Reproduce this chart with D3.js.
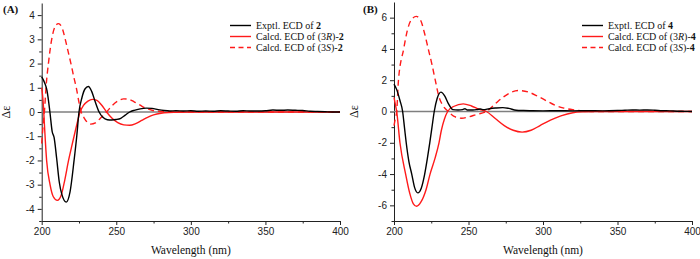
<!DOCTYPE html>
<html>
<head>
<meta charset="utf-8">
<script src="https://cdn.jsdelivr.net/npm/d3@7"></script>
<style>
  body { margin: 0; background: #fff; }
  svg { display: block; }
  .tick text { font-family: "Liberation Sans", Arial, sans-serif; font-size: 10px; fill: #222; }
  .lbl { font-family: "Liberation Serif", "Times New Roman", serif; fill: #111; }
</style>
</head>
<body>
<svg width="700" height="259"></svg>
<script>
// wavelength (nm), delta epsilon
const aExptl = [[200,1.45],[202,1.2],[203.5,0.9],[205.5,0],[207,-0.8],[208.3,-1.05],[210,-1.9],[211.8,-2.9],[213.5,-3.4],[216.5,-3.72],[219,-3.3],[221.7,-2.0],[223.5,-1.0],[225,0],[227,0.6],[229,0.95],[231.3,1.05],[233.5,0.85],[236,0.4],[238.5,0],[241,-0.22],[244,-0.32],[247,-0.33],[250,-0.31],[253,-0.26],[256,-0.13],[259,0],[262,0.07],[266,0.13],[270,0.16],[274,0.15],[278,0.1],[282,0.06],[286,0.04],[290,0.05],[295,0.04],[300,0.05],[305,0.03],[310,0.04],[315,0.03],[320,0.05],[325,0.04],[330,0.03],[335,0.05],[340,0.04],[345,0.04],[350,0.05],[355,0.08],[360,0.07],[365,0.08],[370,0.07],[375,0.06],[380,0.03],[385,0.02],[390,0.01],[395,0],[400,0]];
const aCalcR = [[200,1.0],[201,0.4],[201.8,-0.5],[203.3,-2.0],[205.6,-3.0],[207.8,-3.5],[210.5,-3.65],[213,-3.45],[215.5,-2.8],[218,-2.0],[220,-1.45],[221.7,-1.0],[223.6,-0.5],[225.7,0],[228,0.27],[231,0.45],[234,0.52],[237,0.48],[240,0.3],[243.5,0],[247,-0.25],[251,-0.44],[255,-0.53],[259,-0.55],[263,-0.48],[267,-0.35],[271,-0.22],[275,-0.12],[280,-0.05],[285,-0.02],[290,-0.01],[300,0],[400,0]];
const aCalcS = [[200,-1.3],[201,-0.5],[201.8,0],[203,1.1],[204.5,2.0],[206.7,3.0],[208.8,3.5],[211.2,3.65],[213.5,3.5],[215.8,3.0],[217.7,2.5],[219.6,2.0],[221.5,1.45],[223.2,1.0],[225,0.4],[226.5,0],[228.5,-0.25],[230.5,-0.42],[233,-0.5],[236,-0.45],[239.5,-0.25],[243.5,0],[247,0.25],[251,0.45],[255,0.54],[258,0.53],[262,0.42],[266,0.28],[270,0.15],[274,0.07],[278,0.03],[284,0.01],[290,0],[400,0]];

const bExptl = [[200,1.75],[202,1.35],[204,0.7],[205.8,0],[207,-1.0],[208.2,-2.0],[210,-3.2],[211.9,-4.0],[213.8,-4.85],[216,-5.2],[218.3,-4.9],[220.6,-4.0],[222.4,-3.0],[224,-2.0],[225.5,-1.0],[227,0],[229,0.85],[231.5,1.24],[234,1.0],[236.5,0.5],[239.5,0.12],[243,0.1],[246,0.12],[247.6,0.18],[249,0.1],[253,0.1],[256,0.13],[258,0.16],[260,0.12],[264,0.18],[268,0.22],[273,0.25],[277,0.2],[282,0.08],[287,0.06],[292,0.05],[300,0.04],[310,0.05],[320,0.04],[330,0.05],[340,0.04],[350,0.06],[355,0.08],[360,0.1],[365,0.09],[370,0.1],[375,0.08],[380,0.05],[385,0.04],[390,0.02],[395,0.01],[400,0]];
const bCalcR = [[200,0.9],[201,0.4],[201.8,0],[204,-2.0],[207.8,-4.0],[210.5,-5.2],[213,-5.9],[215.2,-6.06],[218,-5.8],[221.5,-5.0],[224.2,-4.0],[227.5,-3.0],[230.2,-2.0],[231.8,-1.2],[233.8,-0.5],[236,0],[240,0.32],[246.5,0.49],[252,0.35],[257,0.15],[262,0],[268,-0.45],[274,-0.9],[280,-1.2],[286,-1.32],[292,-1.2],[298,-0.9],[305,-0.55],[312,-0.28],[320,-0.08],[328,-0.02],[335,0],[400,0]];
const bCalcS = [[200,-0.9],[201,-0.4],[201.8,0],[203,2.0],[206.5,4.0],[209,5.2],[211.5,5.85],[215,6.08],[218,5.8],[220.5,5.0],[223,4.0],[225.5,3.0],[227.7,2.0],[230,1.0],[233,0.35],[236.5,0],[240,-0.3],[245.4,-0.43],[250,-0.35],[255,-0.2],[262,0],[268,0.5],[273,0.9],[278,1.2],[283.5,1.34],[290,1.25],[296,1.0],[302,0.7],[308,0.4],[314,0.22],[320,0.11],[327,0.04],[335,0],[400,0]];

const xTicks = [200, 250, 300, 350, 400];
const xMinor = [225, 275, 325, 375];
const aYTicks = [-4, -3, -2, -1, 0, 1, 2, 3, 4];
const aYMinor = [-4.5, -3.5, -2.5, -1.5, -0.5, 0.5, 1.5, 2.5, 3.5];
const bYTicks = [-6, -4, -2, 0, 2, 4, 6];
const bYMinor = [-7, -5, -3, -1, 1, 3, 5];

const svg = d3.select("svg");

function drawPanel(p) {
  const x = d3.scaleLinear().domain([200, 400]).range([p.left, p.right]);
  const y = d3.scaleLinear().domain(p.yDomain).range([221, p.top]);
  const g = svg.append("g");

  // minor ticks first
  g.append("g").attr("transform", `translate(0,221)`)
    .call(d3.axisBottom(x).tickValues(xMinor).tickSize(2.5).tickFormat(""))
    .call(a => a.select(".domain").remove());
  g.append("g").attr("transform", `translate(${p.left},0)`)
    .call(d3.axisLeft(y).tickValues(p.yMinor).tickSize(2.5).tickFormat(""))
    .call(a => a.select(".domain").remove());

  g.append("g").attr("transform", `translate(0,221)`)
    .call(d3.axisBottom(x).tickValues(xTicks).tickSize(4).tickPadding(3).tickSizeOuter(0).tickFormat(d => String(d)));
  g.append("g").attr("transform", `translate(${p.left},0)`)
    .call(d3.axisLeft(y).tickValues(p.yTicks).tickSize(4).tickPadding(3).tickSizeOuter(0).tickFormat(d => String(d)));
  g.selectAll(".domain, .tick line").attr("stroke", "#222");

  // zero line
  g.append("line")
    .attr("x1", x(200)).attr("x2", x(400))
    .attr("y1", y(0)).attr("y2", y(0))
    .attr("stroke", "#7f7f7f").attr("stroke-width", 1.4);

  const line = d3.line().x(d => x(d[0])).y(d => y(d[1])).curve(d3.curveMonotoneX);

  g.append("path").datum(p.calcS).attr("d", line)
    .attr("fill", "none").attr("stroke", "#ff1a1a").attr("stroke-width", 1.4).attr("stroke-dasharray", "6,4");
  g.append("path").datum(p.calcR).attr("d", line)
    .attr("fill", "none").attr("stroke", "#ff1a1a").attr("stroke-width", 1.4);
  g.append("path").datum(p.exptl).attr("d", line)
    .attr("fill", "none").attr("stroke", "#000").attr("stroke-width", 1.4);

  // panel letter
  g.append("text").attr("class", "lbl")
    .attr("x", p.letterX).attr("y", 13)
    .style("font-size", "11px").style("font-weight", "bold")
    .text(p.letter);

  // y label
  g.append("text").attr("class", "lbl")
    .attr("transform", `translate(${p.yLabelX},${y(0)}) rotate(-90)`)
    .attr("text-anchor", "middle")
    .style("font-size", "12px")
    .text("Δε");

  // x label
  g.append("text").attr("class", "lbl")
    .attr("x", (p.left + p.right) / 2).attr("y", 254)
    .attr("text-anchor", "middle")
    .style("font-size", "11.5px")
    .text("Wavelength (nm)");

  // legend
  const legend = [
    { color: "#000", dash: null, pre: "Exptl. ECD of ", it: null },
    { color: "#ff1a1a", dash: null, pre: "Calcd. ECD of (3", it: "R" },
    { color: "#ff1a1a", dash: "5,3.5", pre: "Calcd. ECD of (3", it: "S" }
  ];
  const lg = g.append("g");
  legend.forEach((d, i) => {
    const ly = 25.5 + i * 11;
    lg.append("line")
      .attr("x1", p.legX).attr("x2", p.legX + 21)
      .attr("y1", ly).attr("y2", ly)
      .attr("stroke", d.color).attr("stroke-width", 1.4)
      .attr("stroke-dasharray", d.dash);
    const t = lg.append("text").attr("class", "lbl")
      .attr("x", p.legX + 26).attr("y", ly + 3.5)
      .style("font-size", "10px");
    t.append("tspan").text(d.pre);
    if (d.it) {
      t.append("tspan").style("font-style", "italic").text(d.it);
      t.append("tspan").text(")-");
    }
    t.append("tspan").style("font-weight", "bold").text(p.cpd);
  });
}

drawPanel({
  left: 41.7, right: 340, top: 3, yDomain: [-4.5, 4.5],
  yTicks: aYTicks, yMinor: aYMinor,
  exptl: aExptl, calcR: aCalcR, calcS: aCalcS,
  letter: "(A)", letterX: 3, yLabelX: 10, legX: 230, cpd: "2"
});
drawPanel({
  left: 394, right: 692, top: 2, yDomain: [-7, 7],
  yTicks: bYTicks, yMinor: bYMinor,
  exptl: bExptl, calcR: bCalcR, calcS: bCalcS,
  letter: "(B)", letterX: 363, yLabelX: 358, legX: 582, cpd: "4"
});
</script>
</body>
</html>
